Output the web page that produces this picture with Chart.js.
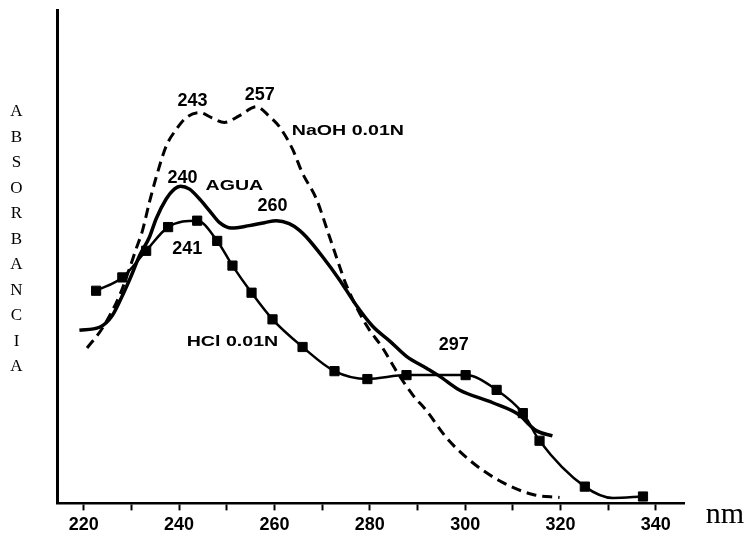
<!DOCTYPE html>
<html><head><meta charset="utf-8">
<script src="https://cdn.jsdelivr.net/npm/chart.js@4"></script>
<style>html,body{margin:0;padding:0;background:#fff}canvas{display:block}</style>
</head><body>
<canvas id="c" width="746" height="540"></canvas>
<script>
// ---- data (wavelength nm, relative absorbance 0-100) ----
const naohNm  = [220.7, 223.9, 227.5, 229.6, 231.0, 232.3, 233.8, 235.2, 237.3, 239.4, 241.5, 244.3, 246.8, 249.5, 252.7, 256.2, 259.0, 261.0, 263.8, 265.8, 268.8, 271.5, 273.6, 275.1, 279.3, 282.7, 285.6, 289.0, 291.9, 296.1, 301.0, 307.2, 314.2, 319.8];
const naohAbs = [31.5, 35.5, 42.1, 47.6, 51.6, 55.2, 61.1, 66.1, 72.4, 75.8, 78.2, 79.2, 78.2, 77.2, 78.6, 80.4, 78.4, 76.4, 71.8, 67.1, 61.7, 54.2, 48.2, 44.2, 36.1, 31.5, 26.8, 22.0, 18.8, 13.3, 8.7, 4.6, 1.8, 1.2];

const aguaNm  = [219.1, 223.3, 226.0, 228.1, 230.0, 231.7, 233.8, 235.2, 237.3, 239.0, 240.3, 242.2, 244.3, 246.4, 248.5, 251.0, 254.7, 257.9, 260.4, 263.1, 265.2, 266.7, 270.1, 273.6, 277.2, 280.6, 284.2, 287.7, 291.9, 294.6, 298.8, 305.8, 311.4, 313.5, 315.0, 318.3];
const aguaAbs = [35.1, 35.7, 38.1, 42.1, 46.2, 50.2, 54.0, 57.7, 61.7, 63.7, 64.3, 63.7, 61.7, 59.3, 56.9, 55.8, 56.3, 56.9, 57.3, 56.7, 55.4, 54.0, 50.0, 45.4, 40.1, 35.9, 32.9, 29.8, 27.4, 25.8, 23.0, 20.4, 17.9, 15.9, 14.7, 13.7];

const hclNm  = [222.6, 228.1, 233.1, 237.7, 243.8, 248.0, 251.2, 255.2, 259.6, 265.9, 272.6, 279.5, 287.7, 300.1, 306.6, 312.1, 315.6, 325.1, 331.0, 337.3];
const hclAbs = [43.1, 45.8, 51.2, 56.0, 57.3, 53.2, 48.2, 42.7, 37.3, 31.7, 26.8, 25.2, 26.0, 26.0, 23.0, 18.3, 12.7, 3.4, 1.1, 1.4];
const hclUnmarkedNm = [331.0];

const xTickValues = [220, 230, 240, 250, 260, 270, 280, 290, 300, 310, 320, 330, 340];
const xTickLabels = [220, 240, 260, 280, 300, 320, 340];

const yAxisTitle = 'ABSORBANCIA';
const xAxisUnit = 'nm';

const peakTexts = ['243', '257', '240', '260', '241', '297'];
const peakNm    = [242.8, 256.9, 240.7, 259.6, 241.7, 297.6];
const peakAbs   = [81.6, 82.7, 65.9, 60.3, 51.6, 32.1];

const seriesNames   = ['NaOH 0.01N', 'AGUA', 'HCl 0.01N'];
const seriesLabelNm = [275.4, 251.6, 251.2];
const seriesLabelAbs= [75.4, 64.3, 32.7];

const pts = (xs, ys) => xs.map((x, i) => ({x, y: ys[i]}));

const textPlugin = {
  id: 'texts',
  afterDraw(chart) {
    const ctx = chart.ctx, xs = chart.scales.x, ys = chart.scales.y;
    ctx.save();
    ctx.fillStyle = '#000';
    ctx.textAlign = 'center';
    ctx.textBaseline = 'middle';
    ctx.font = 'bold 18px "Liberation Sans", Arial, sans-serif';
    peakTexts.forEach((t, i) => {
      ctx.fillText(t, xs.getPixelForValue(peakNm[i]), ys.getPixelForValue(peakAbs[i]));
    });
    seriesNames.forEach((t, i) => {
      ctx.save();
      ctx.translate(xs.getPixelForValue(seriesLabelNm[i]), ys.getPixelForValue(seriesLabelAbs[i]));
      ctx.scale(1.4, 1);
      ctx.font = 'bold 14px "Liberation Sans", Arial, sans-serif';
      ctx.fillText(t, 0, 0);
      ctx.restore();
    });
    ctx.font = '17px "Liberation Serif", "Times New Roman", serif';
    yAxisTitle.split('').forEach((ch, i) => ctx.fillText(ch, 16.5, 112 + i * 25.5));
    ctx.font = '30px "Liberation Serif", "Times New Roman", serif';
    ctx.fillText(xAxisUnit, 725, 515);
    ctx.restore();
  }
};

new Chart(document.getElementById('c'), {
  type: 'line',
  data: {
    datasets: [
      { label: seriesNames[0], data: pts(naohNm, naohAbs), borderColor: '#000', borderWidth: 3,
        borderDash: [10, 6], pointRadius: 0, cubicInterpolationMode: 'monotone', fill: false },
      { label: seriesNames[1], data: pts(aguaNm, aguaAbs), borderColor: '#000', borderWidth: 3.5,
        pointRadius: 0, cubicInterpolationMode: 'monotone', fill: false },
      { label: seriesNames[2], data: pts(hclNm, hclAbs), borderColor: '#000', borderWidth: 2.5,
        pointStyle: 'rect', pointRadius: hclNm.map(x => hclUnmarkedNm.includes(x) ? 0 : 6.5),
        pointBackgroundColor: '#000', pointBorderColor: '#000', pointBorderWidth: 1,
        cubicInterpolationMode: 'monotone', fill: false }
    ]
  },
  options: {
    responsive: false, animation: false, devicePixelRatio: 1,
    layout: { padding: { left: 57, right: 62, top: 10, bottom: 0 } },
    plugins: { legend: { display: false }, tooltip: { enabled: false } },
    scales: {
      x: {
        type: 'linear', min: 214.4, max: 345.9,
        afterBuildTicks: s => { s.ticks = xTickValues.map(v => ({ value: v })); },
        ticks: {
          autoSkip: false, maxRotation: 0, color: '#000', padding: 4,
          font: { family: '"Liberation Sans", Arial, sans-serif', size: 18, weight: 'bold' },
          callback: v => xTickLabels.includes(v) ? String(v) : ''
        },
        grid: { display: true, drawOnChartArea: false, drawTicks: true, tickLength: 7, tickColor: '#000', tickWidth: 2 },
        border: { display: true, color: '#000', width: 2.5 }
      },
      y: {
        min: 0, max: 100,
        ticks: { display: false },
        grid: { display: false, drawTicks: false },
        border: { display: true, color: '#000', width: 3 }
      }
    }
  },
  plugins: [textPlugin]
});
</script>
</body></html>
